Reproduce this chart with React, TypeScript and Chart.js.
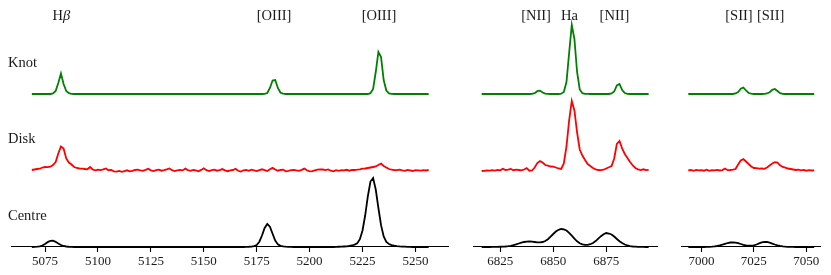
import React, { useEffect, useRef } from "react";
import { Chart, registerables } from "chart.js";

Chart.register(...registerables);

// ---- sampling (MUSE-like 1.25 Å grid) ----
const STEP = 1.25;
const p1Start = 5068.75;
const p2Start = 6816.25;
const p3Start = 6993.75;

// ---- axis ranges and ticks ----
const p1Range = [5059.375, 5265.625];
const p2Range = [6812.3125, 6898.9375];
const p3Range = [6990.75, 7056.75];
const p1Ticks = [5075, 5100, 5125, 5150, 5175, 5200, 5225, 5250];
const p2Ticks = [6825, 6850, 6875];
const p3Ticks = [7000, 7025, 7050];

// ---- series ----
const seriesNames = ["Knot", "Disk", "Centre"];
const seriesColors = ["#008000", "#ff0000", "#000000"];
const seriesOffsets = [153, 76.5, 0];

// ---- emission line labels ----
const p1LineNames = ["Hβ", "[OIII]", "[OIII]"];
const p1LinePos = [5082.7, 5183.2, 5232.8];
const p2LineNames = ["[NII]", "Ha", "[NII]"];
const p2LinePos = [6841.9, 6857.7, 6878.9];
const p3LineNames = ["[SII]", "[SII]"];
const p3LinePos = [7017.9, 7033.0];

// ---- panel 1 flux (Hβ + [OIII]) ----
const knotP1 = [
  0, 0, 0.1, 0, 0, 0.1, 0, 0, 0.5, 3,
  11, 20.5, 10, 3, 0.8, 0.2, 0, 0.1, 0, 0,
  0, 0, 0, 0.1, 0, 0, 0, 0, 0, 0,
  0, 0, 0, 0, 0.1, 0, 0, 0, 0, 0,
  0, 0, 0.1, 0, 0, 0, 0, 0, 0, 0,
  0, 0, 0, 0, 0, 0.1, 0, 0, 0, 0,
  0.2, 0, 0, 0, 0, 0, 0.1, 0, 0, 0,
  0, 0, 0, 0, 0, 0, 0, 0.1, 0, 0,
  0, 0, 0, 0, 0, 0, 0, 0, 0.2, 1,
  6, 13.5, 14, 6, 1.2, 0.3, 0, 0, 0, 0,
  0, 0, 0, 0, 0.1, 0, 0, 0, 0, 0,
  0, 0, 0, 0, 0, 0.1, 0, 0, 0, 0,
  0, 0, 0, 0, 0, 0, 0, 0, 0.8, 5,
  22, 42, 37, 14, 3.5, 0.6, 0.1, 0, 0.1, 0,
  0, 0, 0.1, 0, 0, 0, 0, 0, 0, 0,
  0,
];
const diskP1 = [
  0.5, 1, 1.5, 1.8, 3, 3.5, 3.3, 3.8, 5.5, 8.5,
  17, 24, 22, 12, 8, 6, 3.5, 2.5, 2, 1.8,
  1.5, 1.2, 3.5, 1, 0.2, 0.9, 0.4, 1.2, 2.1, 0.3,
  0.6, -0.8, -1.2, -0.5, -1.3, -0.6, 0.2, -0.9, -0.3, 0.5,
  0.8, 0.1, -0.4, 0.6, 1.8, 0.2, -0.5, 0.3, 0.9, -0.2,
  0.4, 1.1, 2.0, 0.3, -0.6, 0.2, 0.7, 0.1, 1.9, 0.4,
  -0.3, 0.5, 0.2, -0.8, 0.6, 2.2, 0.3, -0.5, 0.4, 0.9,
  -0.2, 0.3, 1.4, 0.1, -0.7, 0.2, 0.5, 1.8, -0.3, -1.0,
  0.2, 0.6, -0.4, 0.8, 0.1, -0.6, 0.3, 1.2, 0.4, -0.5,
  1.2, 2.6, 1.0, -0.2, 0.5, 0.9, -0.8, -0.4, 0.3, 0.7,
  0.1, -0.3, 0.6, 1.9, 0.2, -0.9, -0.6, 0.1, 0.8, 1.2,
  1.0, 0.4, 1.1, -0.2, -0.8, 0.3, -0.3, 0.4, 0.1, 0.7,
  -0.2, 0.5, 0.5, 0.8, 1.2, 1.8, 2, 2.5, 3, 3.5,
  4, 5.5, 7, 4.5, 3, 1.5, 0.8, 0.5, 0.3, 0.8,
  0.2, -0.3, 0.5, 0.1, -0.5, 0.4, 0.2, -0.2, 0.3, 0,
  0.5,
];
const centreP1 = [
  0, 0.1, 0.3, 0.7, 1.5, 3.0, 4.9, 6.2, 6.3, 5.2,
  3.5, 2.0, 1.0, 0.5, 0.25, 0.1, 0, 0, 0, 0,
  0, 0, 0, 0, 0, 0, 0, 0, 0, 0,
  0, 0, 0, 0, 0, 0, 0, 0, 0, 0,
  0, 0, 0, 0, 0, 0, 0, 0, 0, 0,
  0, 0, 0, 0, 0, 0, 0, 0, 0, 0,
  0, 0, 0, 0, 0, 0, 0, 0, 0, 0,
  0, 0, 0, 0, 0, 0, 0, 0, 0, 0,
  0, 0.15, 0.25, 0.45, 0.9, 2.0, 5.3, 11.5, 19, 23,
  20.3, 13.2, 6.4, 2.6, 1.2, 0.6, 0.35, 0.2, 0.1, 0,
  0, 0, 0, 0, 0, 0, 0, 0, 0, 0,
  0, 0, 0, 0, 0, 0.15, 0.25, 0.35, 0.5, 0.7,
  1.0, 1.5, 2.4, 3.8, 7.8, 16.5, 31.5, 50.5, 65.5, 69,
  57.5, 39, 21.8, 10.5, 5, 3.0, 1.9, 1.3, 0.9, 0.6,
  0.4, 0.3, 0.2, 0.1, 0, 0, 0, 0, 0, 0,
  0,
];

// ---- panel 2 flux ([NII] + Hα) ----
const knotP2 = [
  0, 0, 0.1, 0, 0, 0, 0.1, 0, 0, 0,
  0, 0, 0.1, 0, 0, 0, 0, 0, 0, 0.2,
  0.8, 2.8, 3.4, 1.5, 0.4, 0.1, 0, 0, 0, 0,
  0.3, 2, 12, 41, 69, 55, 22, 4.5, 0.8, 0.2,
  0.1, 0, 0, 0, 0, 0, 0, 0, 0, 0.5,
  2.5, 8.5, 10, 4, 1, 0.2, 0, 0, 0.1, 0,
  0, 0, 0.1, 0,
];
const diskP2 = [
  -0.5, -0.3, 0, -0.2, 0.3, -0.2, 0.5, 0.2, 1.8, 0.5,
  0.8, 1.5, 0.3, 0.8, 0.5, 0.2, 1.0, 2.3, -0.2, 0,
  3, 7.5, 9.5, 8, 5.5, 4.8, 4, 3.8, 3, 2,
  1.5, 7, 24, 50, 69.5, 60, 38, 21, 15, 10.5,
  6.5, 4.5, 2.5, 1.2, 0.5, 0.3, 0.8, 2, 3.2, 4.5,
  12, 26.5, 29.5, 22, 16.5, 12.5, 8.5, 5, 2.5, 1.2,
  0.5, 1.2, 0.3, 0.6,
];
const centreP2 = [
  0, 0, 0, 0, 0.05, 0.1, 0.15, 0.25, 0.35, 0.5,
  0.8, 1.2, 1.8, 2.6, 3.5, 4.3, 5.0, 5.4, 5.5, 5.3,
  5.0, 4.7, 4.7, 5.0, 6.0, 7.8, 10.3, 13, 15.5, 17.2,
  18, 17.6, 16.5, 14.2, 11.3, 8.3, 5.7, 3.8, 2.6, 2.1,
  2.2, 2.8, 4.0, 5.9, 8.3, 10.8, 12.8, 14, 13.5, 12.5,
  10.5, 8, 5.8, 3.9, 2.5, 1.5, 0.9, 0.5, 0.3, 0.15,
  0.1, 0.05, 0, 0,
];

// ---- panel 3 flux ([SII]) ----
const knotP3 = [
  0, 0, 0.1, 0, 0, 0, 0, 0.1, 0, 0,
  0, 0, 0, 0.1, 0, 0, 0, 0, 0.5, 2,
  5.2, 6.5, 3.5, 1, 0.3, 0, 0, 0, 0, 0.1,
  0.5, 1.8, 4.2, 5, 3, 0.9, 0.2, 0, 0, 0,
  0, 0.1, 0, 0, 0, 0, 0, 0, 0,
];
const diskP3 = [
  0, 0.5, -0.3, 0.6, 0.2, 0.4, -0.2, 0.8, -0.3, 0.3,
  0.2, 0.6, 0, 0.4, 2.0, 0.3, 0.5, 0.8, 1.5, 6,
  10, 11.5, 9, 6.5, 4, 2.5, 2.3, 1.8, 2, 1.6,
  3, 5, 7, 8.2, 7.8, 5.2, 3.6, 2.8, 2, 1.5,
  1, 0.5, 0.8, 0.2, 0.6, -0.2, 0.3, 0, 0.2,
];
const centreP3 = [
  0, 0, 0, 0, 0, 0, 0, 0.05, 0.15, 0.3,
  0.6, 1.0, 1.6, 2.4, 3.2, 4.0, 4.5, 4.7, 4.4, 3.8,
  3.0, 2.2, 1.6, 1.3, 1.3, 1.7, 2.5, 3.6, 4.6, 5.2,
  5.0, 4.3, 3.4, 2.5, 1.7, 1.1, 0.7, 0.4, 0.2, 0.1,
  0.05, 0, 0, 0, 0, 0, 0, 0, 0,
];

// ---- layout ----
const W = 831;
const H = 275;
const AXIS_H = 28;
const Y_MAX = 247;
const FONT = "'Liberation Serif', 'Times New Roman', serif";
const TEXT = "#1a1a1a";
const LABEL_SIZE = 14.5;

type Panel = {
  start: number;
  range: number[];
  ticks: number[];
  series: number[][];
  names: string[];
  pos: number[];
  left: number;
  right: number;
  side: boolean;
};

const panels: Panel[] = [
  { start: p1Start, range: p1Range, ticks: p1Ticks, series: [knotP1, diskP1, centreP1], names: p1LineNames, pos: p1LinePos, left: 12, right: 448.5, side: true },
  { start: p2Start, range: p2Range, ticks: p2Ticks, series: [knotP2, diskP2, centreP2], names: p2LineNames, pos: p2LinePos, left: 473.3, right: 657, side: false },
  { start: p3Start, range: p3Range, ticks: p3Ticks, series: [knotP3, diskP3, centreP3], names: p3LineNames, pos: p3LinePos, left: 682, right: 820.5, side: false },
];

function drawLineLabel(ctx: CanvasRenderingContext2D, text: string, cx: number, y: number) {
  const base = `${LABEL_SIZE}px ${FONT}`;
  const ital = `italic ${LABEL_SIZE}px ${FONT}`;
  if (text === "Hβ") {
    ctx.font = base;
    const w1 = ctx.measureText("H").width;
    ctx.font = ital;
    const w2 = ctx.measureText("β").width;
    const x0 = cx - (w1 + w2) / 2;
    ctx.textAlign = "left";
    ctx.font = base;
    ctx.fillText("H", x0, y);
    ctx.font = ital;
    ctx.fillText("β", x0 + w1, y);
  } else {
    ctx.font = base;
    ctx.textAlign = "center";
    ctx.fillText(text, cx, y);
  }
}

function makeConfig(p: Panel, k: number): any {
  const grid = p.series[0].map((_, i) => p.start + STEP * i);
  const labelPlugin = {
    id: "lineLabels" + k,
    afterDraw(chart: any) {
      const ctx: CanvasRenderingContext2D = chart.ctx;
      const xs = chart.scales.x;
      const ys = chart.scales.y;
      ctx.save();
      ctx.fillStyle = TEXT;
      ctx.textBaseline = "alphabetic";
      p.names.forEach((n, j) => drawLineLabel(ctx, n, xs.getPixelForValue(p.pos[j]), 19.5));
      if (p.side) {
        ctx.font = `${LABEL_SIZE}px ${FONT}`;
        ctx.textAlign = "left";
        seriesNames.forEach((n, j) => {
          ctx.fillText(n, 8, ys.getPixelForValue(seriesOffsets[j]) - 27.5);
        });
      }
      ctx.restore();
    },
  };
  return {
    type: "line",
    data: {
      datasets: p.series.map((s, j) => ({
        label: seriesNames[j],
        data: grid.map((x, i) => ({ x, y: s[i] + seriesOffsets[j] })),
        borderColor: seriesColors[j],
        borderWidth: 1.8,
        pointRadius: 0,
        tension: 0,
        fill: false,
        clip: false,
      })),
    },
    options: {
      animation: false,
      responsive: false,
      devicePixelRatio: 1,
      events: [],
      layout: { padding: { left: p.left, right: W - p.right, top: 0, bottom: 0 } },
      plugins: { legend: { display: false }, tooltip: { enabled: false } },
      scales: {
        x: {
          type: "linear",
          min: p.range[0],
          max: p.range[1],
          afterBuildTicks: (s: any) => {
            s.ticks = p.ticks.map((v) => ({ value: v }));
          },
          afterFit: (s: any) => {
            s.height = AXIS_H;
          },
          ticks: {
            callback: (v: any) => String(v),
            font: { family: FONT, size: 13 },
            color: TEXT,
            padding: 2,
            maxRotation: 0,
            autoSkip: false,
            includeBounds: false,
          },
          grid: {
            display: true,
            drawOnChartArea: false,
            drawTicks: true,
            tickLength: 5,
            tickWidth: 1.1,
            tickColor: "#000",
          },
          border: { display: true, color: "#000", width: 1.1 },
        },
        y: { display: false, min: 0, max: Y_MAX },
      },
    },
    plugins: [labelPlugin],
  };
}

export default function App() {
  const r0 = useRef<HTMLCanvasElement>(null);
  const r1 = useRef<HTMLCanvasElement>(null);
  const r2 = useRef<HTMLCanvasElement>(null);
  const refs = [r0, r1, r2];

  useEffect(() => {
    const charts = panels.map((p, k) => new Chart(refs[k].current as HTMLCanvasElement, makeConfig(p, k)));
    return () => charts.forEach((c) => c.destroy());
  }, []);

  return (
    <div style={{ position: "absolute", left: 0, top: 0, width: W, height: H, background: "#fff" }}>
      {panels.map((_, k) => (
        <canvas
          key={k}
          ref={refs[k]}
          width={W}
          height={H}
          style={{ position: "absolute", left: 0, top: 0, width: W, height: H }}
        />
      ))}
    </div>
  );
}
